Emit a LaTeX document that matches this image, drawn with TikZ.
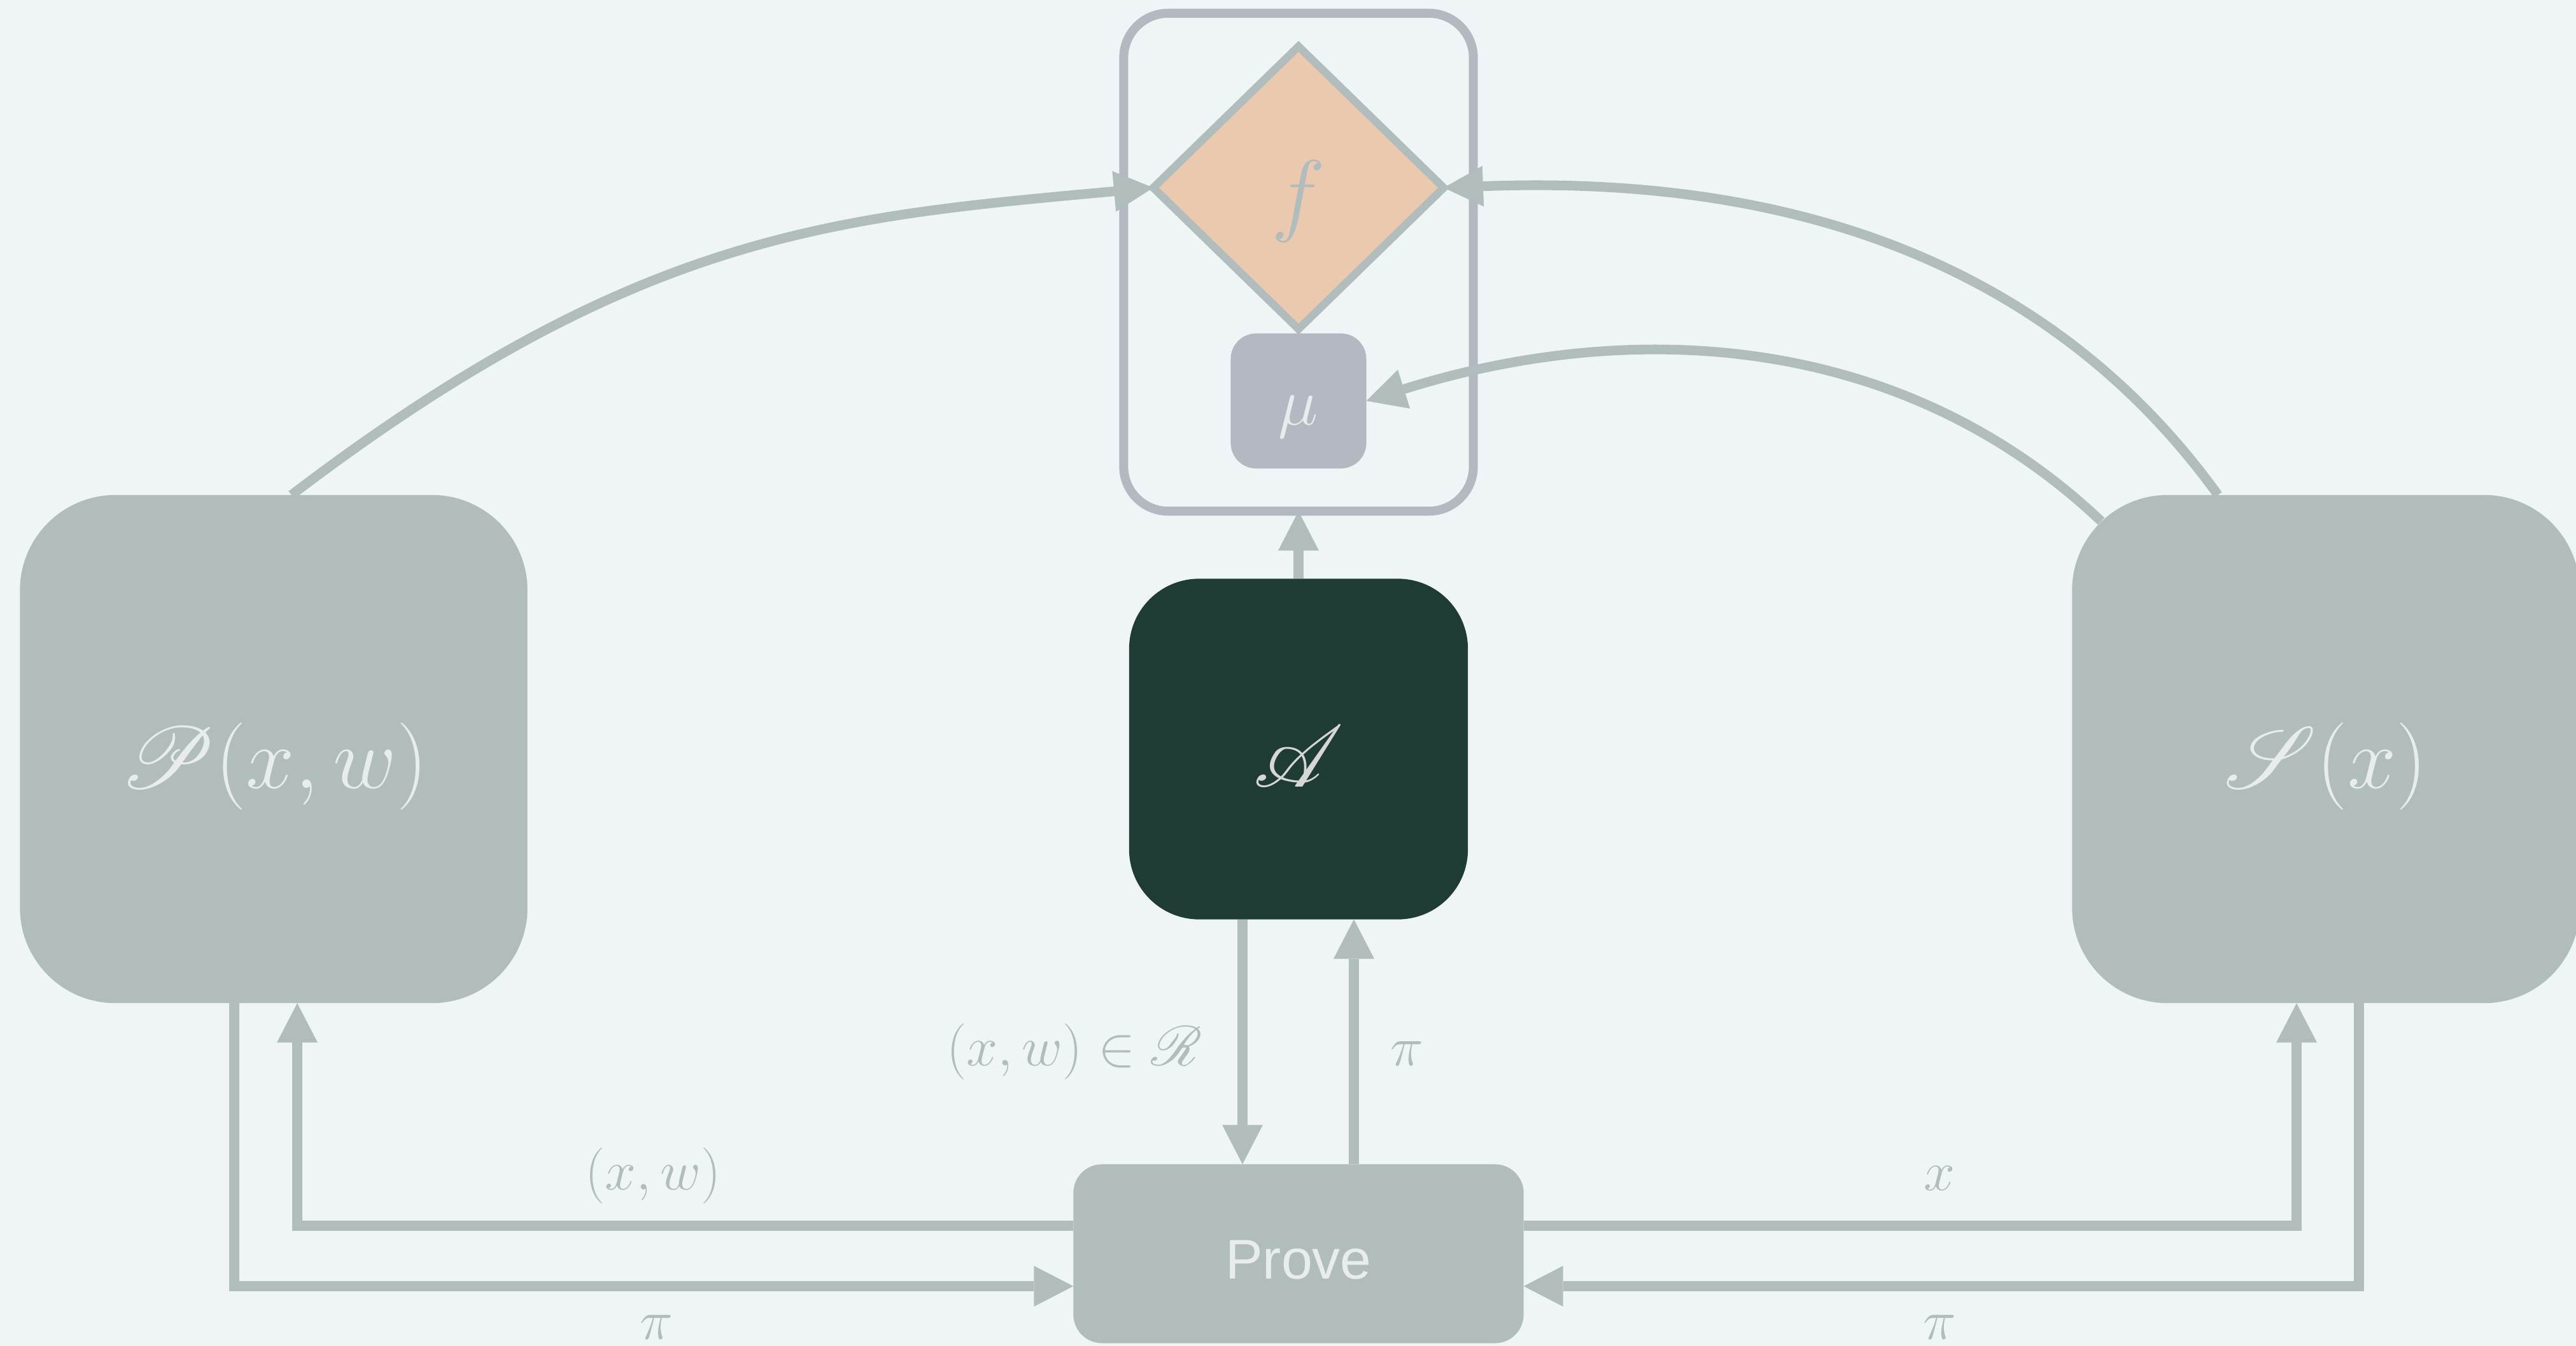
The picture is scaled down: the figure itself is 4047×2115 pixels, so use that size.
\RequirePackage{fix-cm}
\documentclass[tikz,border=0pt]{standalone}
\usepackage{fontspec}
\usepackage{amsmath,amssymb}
\usepackage{mathrsfs}
% let the script alphabet scale freely to large sizes
\DeclareFontFamily{U}{rsfs}{\skewchar\font127 }
\DeclareFontShape{U}{rsfs}{m}{n}{<-6> rsfs5 <6-8> rsfs7 <8-> rsfs10}{}
\newfontfamily\provefont{Liberation Sans}
\usetikzlibrary{arrows.meta,shapes.geometric}

\definecolor{bgc}{RGB}{239,244,247}
\definecolor{slate}{RGB}{177,189,189}
\definecolor{pine}{RGB}{30,60,52}
\definecolor{peach}{RGB}{234,201,175}
\definecolor{steel}{RGB}{180,184,192}
\definecolor{paper}{RGB}{232,236,238}
\definecolor{silver}{RGB}{214,214,214}

% put a text's baseline a given distance below the node centre
\newcommand{\basedrop}[2]{\smash{\raisebox{-#1}{#2}}}

\begin{document}
\begin{tikzpicture}[x=0.01cm,y=-0.01cm,
  party/.style={fill=slate, rounded corners=1.5cm, minimum width=7.97cm,
    minimum height=7.98cm, inner sep=0, outer sep=0, text=paper,
    font=\fontsize{39}{47}\selectfont},
  adversary/.style={fill=pine, rounded corners=1.1cm, minimum width=5.32cm,
    minimum height=5.35cm, inner sep=0, outer sep=0, text=silver,
    font=\fontsize{39}{47}\selectfont},
  provebox/.style={fill=slate, rounded corners=0.45cm, minimum width=7.07cm,
    minimum height=2.81cm, inner sep=0, outer sep=0, text=paper,
    font=\provefont\fontsize{25}{30}\selectfont},
  frame/.style={draw=steel, line width=4pt, rounded corners=0.7cm,
    minimum width=5.49cm, minimum height=7.82cm, inner sep=0, outer sep=0},
  oracle/.style={diamond, fill=peach, draw=slate, line width=3.5pt,
    minimum width=4.56cm, minimum height=4.44cm, inner sep=0, outer sep=0,
    text=slate, font=\fontsize{41}{49}\selectfont},
  measure/.style={fill=steel, rounded corners=0.4cm, minimum width=2.13cm,
    minimum height=2.12cm, inner sep=0, outer sep=0, text=paper,
    font=\fontsize{30}{36}\selectfont},
  lbl/.style={text=slate, inner sep=0, font=\fontsize{25}{30}\selectfont},
  conn/.style={draw=slate, line width=4.3pt,
    -{Triangle[length=17.6pt,width=18.2pt,line width=0pt]}}
]
% canvas
\fill[bgc] (0,0) rectangle (4047,2115);
\useasboundingbox (0,0) rectangle (4047,2115);

% oracle frame with f and mu
\node[frame] (frame) at (2040,412) {};
\node[oracle] (f) at (2040,295) {\basedrop{0.57cm}{$f$}};
\node[measure] (mu) at (2040,630) {\basedrop{0.37cm}{$\mu$}};

% parties
\node[party] (P) at (430,1177) {\basedrop{0.61cm}{$\mathscr{P}(x,w)$}};
\node[party] (S) at (3654,1177) {\basedrop{0.61cm}{$\mathscr{S}(x)$}};
\node[adversary] (A) at (2040,1177) {\basedrop{0.59cm}{$\mathscr{A}$}};
\node[provebox] (Prove) at (2040,1970) {\basedrop{0.39cm}{Prove}};

% routing points
\coordinate (c1) at (368,2021);
\coordinate (c2) at (467,1926);
\coordinate (c3) at (1952,0);
\coordinate (c4) at (2127,0);
\coordinate (c6) at (3608,0);
\coordinate (c7) at (3706,0);
\coordinate (sg) at (3301,819);

% connectors
\draw[conn] (P.86.7) .. controls (1000,365) and (1309,341) .. (f.west);
\draw[conn] (S.113.9) .. controls (3201,385) and (2766,276) .. (f.east);
\draw[conn] (sg) .. controls (2985,520) and (2560,500) .. (mu.east);
\draw[conn] (A.north) -- (frame.south);
\draw[conn] (A.south -| c3) -- (Prove.north -| c3);
\draw[conn] (Prove.north -| c4) -- (A.south -| c4);
\draw[conn] (P.south -| c1) |- (Prove.west |- c1);
\draw[conn] (Prove.west |- c2) -| (P.south -| c2);
\draw[conn] (Prove.east |- c2) -| (S.south -| c6);
\draw[conn] (S.south -| c7) |- (Prove.east |- c1);

% message labels
\node[lbl, anchor=base] (l1) at (1688,1674) {$(x,w)\in\mathscr{R}$};
\node[lbl, anchor=base] (l2) at (2210,1674) {$\pi$};
\node[lbl, anchor=base] (l3) at (1026,1869) {$(x,w)$};
\node[lbl, anchor=base] (l4) at (1031,2104) {$\pi$};
\node[lbl, anchor=base] (l5) at (3047,1870) {$x$};
\node[lbl, anchor=base] (l6) at (3047,2104) {$\pi$};
\end{tikzpicture}
\end{document}
